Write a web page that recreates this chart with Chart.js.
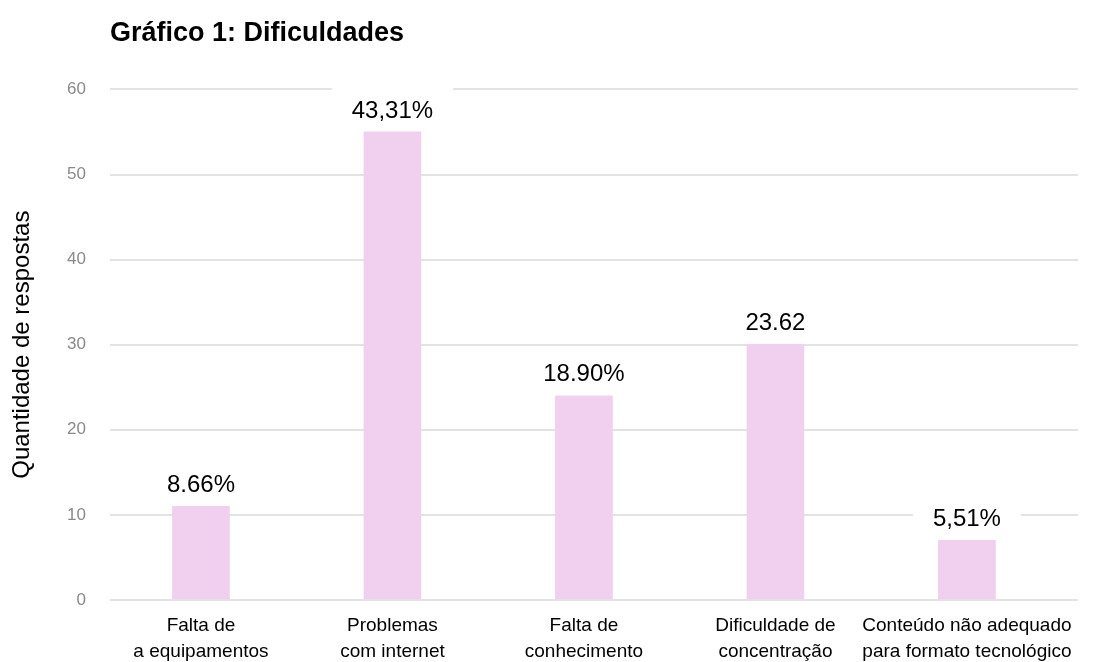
<!DOCTYPE html>
<html>
<head>
<meta charset="utf-8">
<script src="https://cdn.jsdelivr.net/npm/chart.js@4/dist/chart.umd.min.js"></script>
<style>
html,body{margin:0;padding:0;background:#fff;}
#wrap{width:1104px;height:662px;position:relative;}
</style>
</head>
<body>
<div id="wrap"><canvas id="c" width="1104" height="662"></canvas></div>
<script>
const categories = [
  ["Falta de", "a equipamentos"],
  ["Problemas", "com internet"],
  ["Falta de", "conhecimento"],
  ["Dificuldade de", "concentração"],
  ["Conteúdo não adequado", "para formato tecnológico"]
];
const values = [11, 55, 24, 30, 7];
const valueLabels = ["8.66%", "43,31%", "18.90%", "23.62", "5,51%"];
const yTicks = [0, 10, 20, 30, 40, 50, 60];

const FONT = '"Liberation Sans", Arial, sans-serif';

const labelPlugin = {
  id: 'valueLabels',
  afterDatasetsDraw(chart) {
    const ctx = chart.ctx;
    const meta = chart.getDatasetMeta(0);
    ctx.save();
    ctx.font = '24px ' + FONT;
    ctx.textAlign = 'center';
    ctx.textBaseline = 'bottom';
    meta.data.forEach((bar, i) => {
      const t = valueLabels[i];
      const w = ctx.measureText(t).width;
      const yb = bar.y - 9;
      ctx.fillStyle = '#ffffff';
      ctx.fillRect(bar.x - w / 2 - 20, yb - 40, w + 40, 42);
      ctx.fillStyle = '#000000';
      ctx.fillText(t, bar.x, yb);
    });
    ctx.restore();
  }
};

new Chart(document.getElementById('c'), {
  type: 'bar',
  data: {
    datasets: [{
      data: values.map((v, i) => ({ x: i, y: v })),
      backgroundColor: '#f1cfee',
      borderWidth: 0,
      barThickness: 57
    }]
  },
  options: {
    responsive: false,
    animation: false,
    layout: { padding: { top: 0, right: 26, left: 8, bottom: 0 } },
    plugins: {
      legend: { display: false },
      tooltip: { enabled: false },
      title: {
        display: true,
        text: 'Gráfico 1: Dificuldades',
        align: 'start',
        fullSize: false,
        color: '#000',
        font: { family: FONT, size: 27, weight: 'bold', lineHeight: 1.2 },
        padding: { top: 17, bottom: 40 }
      }
    },
    scales: {
      x: {
        type: 'linear',
        offset: false,
        min: -0.475,
        max: 4.58,
        afterBuildTicks(scale) {
          scale.ticks = categories.map((c, i) => ({ value: i }));
        },
        afterFit(scale) { scale.height = 62; },
        grid: { display: false },
        border: { display: false },
        ticks: {
          autoSkip: false,
          maxRotation: 0,
          minRotation: 0,
          padding: 5,
          color: '#000',
          font: { family: FONT, size: 19, lineHeight: 1.35 },
          callback: (v) => categories[v]
        }
      },
      y: {
        min: 0,
        max: 60,
        afterBuildTicks(scale) {
          scale.ticks = yTicks.map(v => ({ value: v }));
        },
        afterFit(scale) { scale.width = 102; },
        grid: { color: '#e3e3e3', lineWidth: 2, drawTicks: false },
        border: { display: false },
        ticks: {
          padding: 24,
          color: '#8a8a8a',
          font: { family: FONT, size: 17 }
        },
        title: {
          display: true,
          text: 'Quantidade de respostas',
          color: '#000',
          font: { family: FONT, size: 24, lineHeight: 1.2 },
          padding: { top: 0, bottom: 10 }
        }
      }
    }
  },
  plugins: [labelPlugin]
});
</script>
</body>
</html>
